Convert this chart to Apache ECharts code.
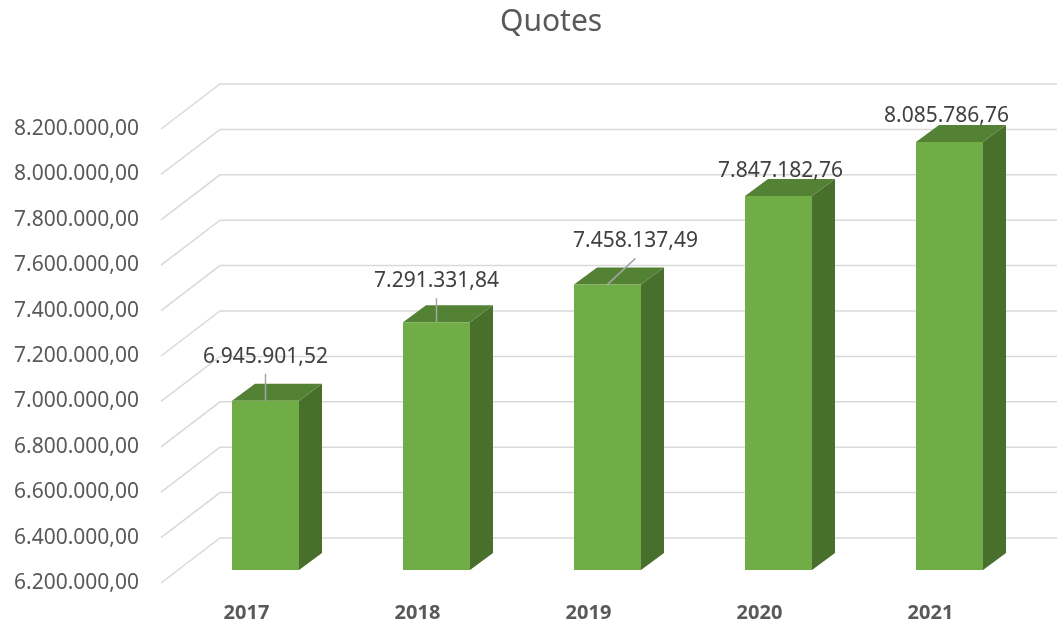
<!DOCTYPE html>
<html>
<head>
<meta charset="utf-8">
<script src="https://cdn.jsdelivr.net/npm/echarts@6/dist/echarts.min.js"></script>
<style>
  html, body { margin: 0; padding: 0; background: #fff; }
  #chart { width: 1057px; height: 627px; }
</style>
</head>
<body>
<div id="chart"></div>
<script>
// data
const years = ['2017', '2018', '2019', '2020', '2021']
const quotes = [6945901.52, 7291331.84, 7458137.49, 7847182.76, 8085786.76]
const ticks = [6200000, 6400000, 6600000, 6800000, 7000000, 7200000, 7400000, 7600000, 7800000, 8000000, 8200000]

// look of the fake 3d
const depthX = 59, depthY = 45        // wall depth
const barW = 67, barDX = 23, barDY = 17, barFront = 13, barShift = 19
const labelShift = [[0, -44], [0, -41], [28, -43], [2, -25], [-3, -26]]
const leader = [true, true, true, false, false]
const textColor = '#595959'
const font = '"Noto Sans", sans-serif'

// 6.945.901,52
function fmt(v) {
    const parts = v.toFixed(2).split('.')
    return parts[0].replace(/\B(?=(\d{3})+(?!\d))/g, '.') + ',' + parts[1]
}

const chart = echarts.init(document.getElementById('chart'))

const option = {
    animation: false,
    title: {
        text: 'Quotes',
        left: 495,
        top: 2,
        textStyle: { color: textColor, fontSize: 30, fontWeight: 'normal', fontFamily: font }
    },
    grid: { left: 161, right: 41, top: 129, bottom: 44, containLabel: false },
    xAxis: {
        type: 'category',
        data: years,
        axisLine: { show: false },
        axisTick: { show: false },
        axisLabel: { color: textColor, fontSize: 20, fontWeight: 'bold', fontFamily: font, margin: 20 }
    },
    yAxis: {
        type: 'value',
        min: 6200000,
        max: 8200000,
        interval: 200000,
        splitLine: { show: false },
        axisLine: { show: false },
        axisTick: { show: false },
        axisLabel: { color: textColor, fontSize: 21, fontFamily: font, margin: 22, formatter: v => fmt(v) }
    },
    series: [
        {
            // back walls + diagonal floor lines
            type: 'custom',
            z: 1,
            data: ticks.map(t => [0, t]),
            encode: { x: 0, y: 1 },
            renderItem: (params, api) => {
                const cs = params.coordSys
                const y = api.coord([0, api.value(1)])[1]
                return {
                    type: 'polyline',
                    shape: { points: [[cs.x, y], [cs.x + depthX, y - depthY], [1057, y - depthY]] },
                    style: { stroke: '#d9d9d9', lineWidth: 1.5, fill: null }
                }
            }
        },
        {
            type: 'custom',
            z: 2,
            data: quotes.map((v, i) => [i, v]),
            encode: { x: 0, y: 1 },
            renderItem: (params, api) => {
                const i = api.value(0)
                const top = api.coord([i, api.value(1)])
                const base = api.coord([i, 6200000])
                const cx = top[0] + barShift
                const x0 = cx - barW / 2, x1 = cx + barW / 2
                const yT = top[1] - barFront, yB = base[1] - barFront
                const children = [
                    {
                        type: 'polygon',
                        shape: { points: [[x1, yT], [x1 + barDX, yT - barDY], [x1 + barDX, yB - barDY], [x1, yB]] },
                        style: { fill: '#48702c' }
                    },
                    {
                        type: 'polygon',
                        shape: { points: [[x0, yT], [x0 + barDX, yT - barDY], [x1 + barDX, yT - barDY], [x1, yT]] },
                        style: { fill: '#548235' }
                    },
                    {
                        type: 'rect',
                        shape: { x: x0, y: yT, width: barW, height: yB - yT },
                        style: { fill: '#70ad47' }
                    }
                ]
                const lx = cx + labelShift[i][0], ly = yT + labelShift[i][1]
                if (leader[i]) {
                    children.push({
                        type: 'line',
                        shape: { x1: lx, y1: ly + 17, x2: cx, y2: yT },
                        style: { stroke: '#a6a6a6', lineWidth: 1.5 }
                    })
                }
                children.push({
                    type: 'text',
                    x: lx,
                    y: ly,
                    style: {
                        text: fmt(api.value(1)),
                        fill: '#404040',
                        font: '21px ' + font,
                        align: 'center',
                        verticalAlign: 'middle'
                    }
                })
                return { type: 'group', children: children }
            }
        }
    ]
}

chart.setOption(option)
</script>
</body>
</html>
